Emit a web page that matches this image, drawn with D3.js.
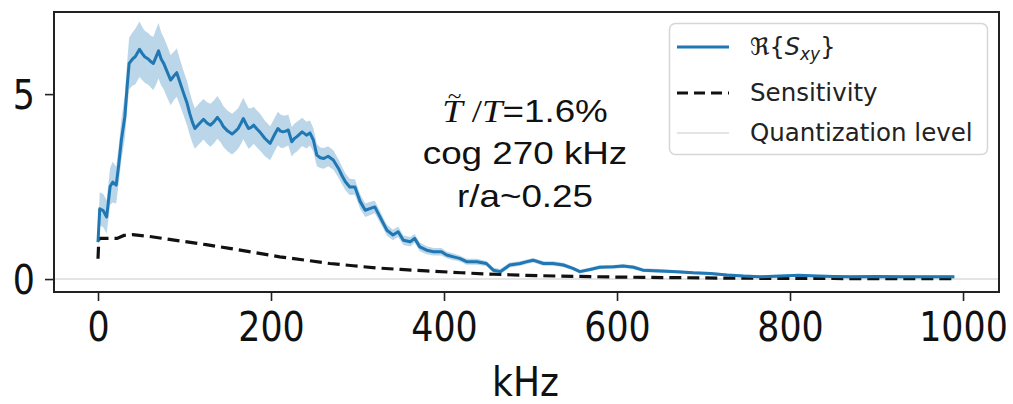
<!DOCTYPE html>
<html>
<head>
<meta charset="utf-8">
<script src="https://cdn.jsdelivr.net/npm/d3@7"></script>
<style>
  html, body { margin: 0; padding: 0; background: #fff; }
  svg { display: block; }
</style>
</head>
<body>
<div id="chart"></div>
<script>
// Real part of the cross spectrum (kHz, value) with its uncertainty half-width
const sxyFreq = [0, 2, 6, 10, 14, 17, 21, 24, 27, 31, 34, 36, 40, 43, 48, 51, 54, 58, 61, 64, 67, 70, 73, 76, 80, 84, 88, 91, 95, 99,
  103, 106, 109, 112, 117, 122, 126, 130, 134, 138, 142, 145, 150, 155, 159, 162, 165, 168, 171, 174, 177, 180, 184, 187, 193, 199,
  204, 208, 211, 214, 217, 220, 224, 227, 230, 236, 241, 245, 249, 253, 257, 261, 266, 272, 278, 282, 286, 291, 297, 303, 309, 315,
  320, 326, 330, 334, 341, 347, 353, 361, 366, 372, 380, 388, 397, 403, 411, 418, 426, 438, 449, 457, 465, 476, 488, 496, 503, 515,
  526, 538, 549, 557, 569, 580, 596, 607, 619, 630, 650, 669, 688, 708, 727, 746, 765, 790, 810, 830, 850, 870, 900, 930, 960, 990];
const sxyValue = [1.0, 1.9, 1.85, 1.68, 2.5, 2.62, 2.54, 3.1, 3.76, 4.39, 5.3, 5.83, 5.95, 6.01, 6.21, 6.1, 6.01, 5.95, 5.88, 5.83, 6.0, 6.17, 5.95, 5.83, 5.6, 5.38, 5.5, 5.58, 5.3, 5.02,
  4.75, 4.48, 4.25, 4.07, 4.2, 4.32, 4.22, 4.16, 4.25, 4.37, 4.25, 4.12, 4.0, 3.92, 4.0, 4.07, 4.2, 4.34, 4.2, 4.07, 4.1, 4.16, 4.05, 3.98, 3.8, 3.67,
  3.9, 4.07, 4.0, 3.98, 4.0, 4.03, 3.71, 3.8, 3.85, 3.98, 3.89, 3.95, 3.76, 3.35, 3.28, 3.26, 3.32, 3.22, 2.99, 2.8, 2.63, 2.49, 2.49, 2.1, 1.86, 1.91,
  1.95, 1.68, 1.5, 1.32, 1.19, 1.28, 1.05, 1.01, 1.1, 0.87, 0.78, 0.74, 0.74, 0.65, 0.6, 0.56, 0.47, 0.47, 0.42, 0.24, 0.2, 0.38, 0.42, 0.47, 0.51, 0.42,
  0.42, 0.38, 0.29, 0.2, 0.26, 0.32, 0.33, 0.35, 0.32, 0.24, 0.22, 0.2, 0.17, 0.15, 0.11, 0.08, 0.06, 0.08, 0.1, 0.08, 0.07, 0.06, 0.07, 0.06, 0.06, 0.06];
const sxySpread = [0.15, 0.45, 0.45, 0.45, 0.5, 0.55, 0.5, 0.5, 0.55, 0.6, 0.65, 0.7, 0.72, 0.75, 0.75, 0.72, 0.7, 0.7, 0.7, 0.72, 0.75, 0.75, 0.72, 0.7, 0.7, 0.68, 0.65, 0.65, 0.62, 0.6,
  0.6, 0.58, 0.56, 0.55, 0.55, 0.55, 0.56, 0.58, 0.58, 0.58, 0.56, 0.55, 0.55, 0.55, 0.55, 0.55, 0.56, 0.56, 0.55, 0.55, 0.52, 0.5, 0.5, 0.5, 0.48, 0.46,
  0.45, 0.45, 0.45, 0.44, 0.42, 0.42, 0.4, 0.4, 0.4, 0.38, 0.36, 0.34, 0.32, 0.3, 0.28, 0.28, 0.27, 0.26, 0.25, 0.24, 0.23, 0.22, 0.21, 0.2, 0.18, 0.18,
  0.17, 0.16, 0.15, 0.15, 0.14, 0.14, 0.13, 0.13, 0.12, 0.12, 0.11, 0.1, 0.1, 0.09, 0.09, 0.08, 0.08, 0.08, 0.07, 0.07, 0.07, 0.07, 0.06, 0.06, 0.06, 0.06,
  0.06, 0.06, 0.05, 0.05, 0.05, 0.05, 0.05, 0.05, 0.05, 0.05, 0.05, 0.04, 0.04, 0.04, 0.04, 0.04, 0.04, 0.04, 0.04, 0.04, 0.04, 0.04, 0.04, 0.04, 0.04, 0.04];

// Sensitivity curve
const sensFreq = [0, 1, 10, 22, 30, 40, 60, 95, 125, 152, 180, 210, 240, 268, 295, 322, 350, 380, 420, 457, 495, 534, 570, 611, 660, 700, 765, 850, 920, 990];
const sensValue = [0.55, 1.1, 1.1, 1.1, 1.18, 1.2, 1.15, 1.03, 0.93, 0.83, 0.72, 0.6, 0.51, 0.42, 0.36, 0.3, 0.26, 0.22, 0.17, 0.13, 0.1, 0.08, 0.065, 0.05, 0.04, 0.03, 0.02, 0.015, 0.01, 0.01];

// Quantization level (horizontal reference)
const quantLevel = 0.0;

// Axis ticks
const xTicks = [0, 200, 400, 600, 800, 1000];
const yTicks = [0, 5];

// Legend entries and annotation lines
const legendLabels = ["Sensitivity", "Quantization level"];
const noteLines = ["cog 270 kHz", "r/a~0.25"];

const W = 1013, H = 404;
const plot = { left: 54, right: 999, top: 12, bottom: 292 };

const svg = d3.select("#chart").append("svg")
  .attr("width", W).attr("height", H)
  .style("font-family", "'DejaVu Sans', sans-serif");

svg.append("rect").attr("width", W).attr("height", H).attr("fill", "#fff");

const x = d3.scaleLinear().domain([-50.87, 1041.6]).range([plot.left, plot.right]);
const y = d3.scaleLinear().domain([-0.35, 7.22]).range([plot.bottom, plot.top]);

svg.append("clipPath").attr("id", "plot-clip")
  .append("rect").attr("x", plot.left).attr("y", plot.top)
  .attr("width", plot.right - plot.left).attr("height", plot.bottom - plot.top);

const body = svg.append("g").attr("clip-path", "url(#plot-clip)");

// Quantization level line
body.append("line")
  .attr("x1", plot.left).attr("x2", plot.right)
  .attr("y1", y(quantLevel)).attr("y2", y(quantLevel))
  .attr("stroke", "#e4e4e4").attr("stroke-width", 2);

// Uncertainty band
const bandData = sxyFreq.map((f, i) => ({ f, lo: sxyValue[i] - sxySpread[i], hi: sxyValue[i] + sxySpread[i] }));
body.append("path")
  .datum(bandData)
  .attr("fill", "#1f77b4").attr("fill-opacity", 0.3)
  .attr("d", d3.area().x(d => x(d.f)).y0(d => y(d.lo)).y1(d => y(d.hi)));

// Sensitivity (dashed)
body.append("path")
  .datum(sensFreq.map((f, i) => [f, sensValue[i]]))
  .attr("fill", "none").attr("stroke", "#111").attr("stroke-width", 3.2)
  .attr("stroke-dasharray", "12,6")
  .attr("d", d3.line().x(d => x(d[0])).y(d => y(d[1])));

// Cross spectrum line
body.append("path")
  .datum(sxyFreq.map((f, i) => [f, sxyValue[i]]))
  .attr("fill", "none").attr("stroke", "#1f77b4").attr("stroke-width", 3)
  .attr("stroke-linejoin", "round")
  .attr("d", d3.line().x(d => x(d[0])).y(d => y(d[1])));

// Frame
svg.append("rect")
  .attr("x", plot.left).attr("y", plot.top)
  .attr("width", plot.right - plot.left).attr("height", plot.bottom - plot.top)
  .attr("fill", "none").attr("stroke", "#222").attr("stroke-width", 2);

// X axis
const gx = svg.append("g").attr("transform", `translate(0,${plot.bottom})`)
  .call(d3.axisBottom(x).tickValues(xTicks).tickSize(9).tickFormat(d3.format("d")));
gx.select(".domain").remove();
gx.selectAll(".tick line").attr("stroke", "#222").attr("stroke-width", 1.6);
gx.selectAll(".tick text")
  .attr("y", 49).attr("dy", null)
  .attr("transform", "scale(0.87,1)")
  .attr("fill", "#111")
  .style("font-family", "'DejaVu Sans', sans-serif").style("font-size", "40px");

// Y axis
const gy = svg.append("g").attr("transform", `translate(${plot.left},0)`)
  .call(d3.axisLeft(y).tickValues(yTicks).tickSize(9).tickFormat(d3.format("d")));
gy.select(".domain").remove();
gy.selectAll(".tick line").attr("stroke", "#222").attr("stroke-width", 1.6);
gy.selectAll(".tick text")
  .attr("x", 0).attr("dy", null).attr("y", 14.5)
  .attr("transform", "translate(-19,0) scale(0.87,1)")
  .attr("fill", "#111")
  .style("font-family", "'DejaVu Sans', sans-serif").style("font-size", "40px");

// X axis label
svg.append("text")
  .attr("transform", `translate(${(plot.left + plot.right) / 2 - 1},396) scale(0.9,1)`)
  .attr("text-anchor", "middle").attr("fill", "#111")
  .style("font-size", "40px").text("kHz");

// Annotation block
const note = svg.append("g");
const noteCx = 525;
const l1 = note.append("text")
  .attr("transform", `translate(${noteCx},122) scale(1.15,1)`)
  .attr("text-anchor", "middle").attr("fill", "#111")
  .style("font-size", "32px");
l1.append("tspan").style("font-family", "'Liberation Serif', serif").style("font-style", "italic").text("T");
l1.append("tspan").style("font-family", "'Liberation Serif', serif").text(" /");
l1.append("tspan").style("font-family", "'Liberation Serif', serif").style("font-style", "italic").text("T");
l1.append("tspan").style("font-family", "'Liberation Sans', Arial, sans-serif").text("=1.6%");
// tilde over the first T
const p0 = l1.node().getStartPositionOfChar(0);
const w0 = l1.node().getSubStringLength(0, 1);
note.append("text")
  .attr("transform", `translate(${noteCx},122) scale(1.15,1)`)
  .attr("x", p0.x + w0 / 2 + 2).attr("y", -19)
  .attr("text-anchor", "middle").attr("fill", "#111")
  .style("font-family", "'Liberation Serif', serif").style("font-size", "22px")
  .text("~");

noteLines.forEach((s, i) => {
  note.append("text")
    .attr("transform", `translate(${noteCx},${[164, 207][i]}) scale(1.15,1)`)
    .attr("text-anchor", "middle").attr("fill", "#111")
    .style("font-family", "'Liberation Sans', Arial, sans-serif").style("font-size", "32px")
    .text(s);
});

// Legend
const lg = svg.append("g");
lg.append("rect")
  .attr("x", 669.5).attr("y", 23.5).attr("width", 318).attr("height", 131).attr("rx", 6)
  .attr("fill", "#fff").attr("fill-opacity", 0.8)
  .attr("stroke", "#d6d6d6").attr("stroke-width", 1.5);

const rowY = [47, 93, 133];
const hx0 = 677, hx1 = 729, tx = 750;
lg.append("line").attr("x1", hx0).attr("x2", hx1).attr("y1", rowY[0]).attr("y2", rowY[0])
  .attr("stroke", "#1f77b4").attr("stroke-width", 3);
lg.append("line").attr("x1", hx0).attr("x2", hx1).attr("y1", rowY[1]).attr("y2", rowY[1])
  .attr("stroke", "#111").attr("stroke-width", 3).attr("stroke-dasharray", "11,6");
lg.append("line").attr("x1", hx0).attr("x2", hx1).attr("y1", rowY[2]).attr("y2", rowY[2])
  .attr("stroke", "#e4e4e4").attr("stroke-width", 2);

const t0 = lg.append("text").attr("x", tx).attr("y", rowY[0] + 8).attr("fill", "#222").style("font-size", "24px");
t0.append("tspan").text("\u211C{");
t0.append("tspan").style("font-style", "italic").text("S");
t0.append("tspan").style("font-style", "italic").style("font-size", "17px").attr("dy", 5).text("xy");
t0.append("tspan").attr("dy", -5).text("}");

legendLabels.forEach((s, i) => {
  lg.append("text").attr("x", tx).attr("y", rowY[i + 1] + 8).attr("fill", "#222")
    .style("font-size", "24.5px").text(s);
});
</script>
</body>
</html>
